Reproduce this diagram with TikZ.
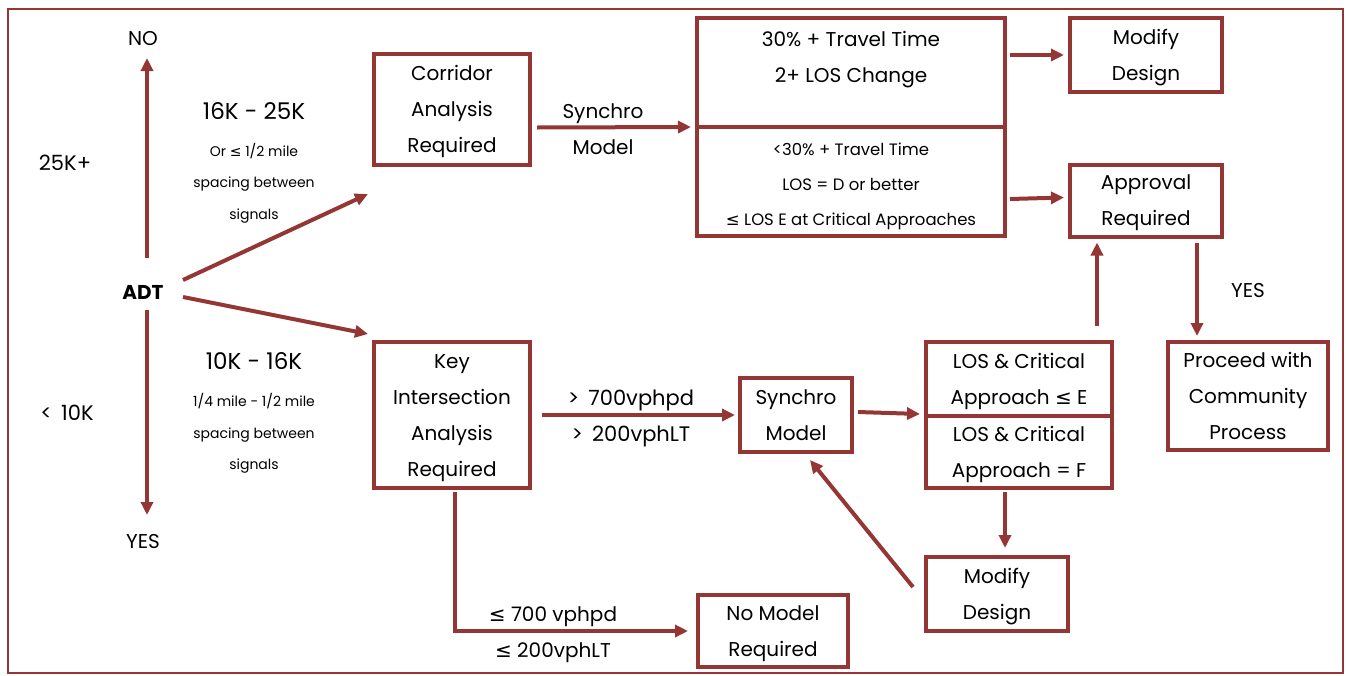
\documentclass[tikz,border=0pt]{standalone}
\usepackage{fontspec}
\setmainfont{Poppins}
\newfontfamily\symf{DejaVu Sans}
\usetikzlibrary{arrows.meta,calc}
\definecolor{dred}{RGB}{148,54,52}
\newcommand\boxtext[1]{\begin{tabular}{@{}c@{}}#1\end{tabular}}
\begin{document}
\begin{tikzpicture}[x=1pt,y=-1pt,
  box/.style={draw=dred, line width=4pt, inner sep=0pt, font=\fontsize{20}{36}\selectfont},
  arr/.style={draw=dred, line width=4pt, -{Triangle[length=13pt,width=12pt]}},
  lbl/.style={inner sep=0pt, align=center, font=\fontsize{20}{36}\selectfont},
  hdr/.style={inner sep=0pt, align=center, font=\fontsize{23}{36}\selectfont},
  small/.style={inner sep=0pt, align=center, font=\fontsize{14}{31.5}\selectfont},
  mid/.style={inner sep=0pt, align=center, font=\fontsize{16.5}{35}\selectfont}]
\useasboundingbox (0,0) rectangle (1349,675);
\draw[dred, line width=2pt] (8,9) rectangle (1343,673);

% left labels
\node[lbl, font=\bfseries\fontsize{20}{24}\selectfont] (adt) at (143,292) {ADT};
\node[lbl] (no) at (143,39) {NO};
\node[lbl] (yes) at (143,542) {YES};
\node[lbl, font=\fontsize{21}{24}\selectfont] (k25) at (65,163) {25K+};
\node[lbl, font=\fontsize{21}{24}\selectfont] (k10) at (67,413) {<\, 10K};
\node[hdr] (h1) at (254,111) {16K - 25K};
\node[small] (s1) at (254,183) {Or {\symf ≤} 1/2 mile\\spacing between\\signals};
\node[hdr] (h2) at (254,361) {10K - 16K};
\node[small] (s2) at (254,433.5) {1/4 mile - 1/2 mile\\spacing between\\signals};

% boxes
\node[box, minimum width=156pt, minimum height=111pt] (corr) at (452,109.5) {\boxtext{Corridor\\Analysis\\Required}};
\node[box, minimum width=156pt, minimum height=146pt] (key) at (452,415) {\boxtext{Key\\Intersection\\Analysis\\Required}};
\node[box, minimum width=308pt, minimum height=109pt] (tb1) at (851,72.5) {};
\node[box, minimum width=308pt, minimum height=109pt] (tb2) at (851,181.5) {};
\node[lbl] (tb1t) at (851,60) {30\% + Travel Time\\2+ LOS Change};
\node[mid] (tb2t) at (851,186) {<30\% + Travel Time\\LOS = D or better\\{\symf ≤} LOS E at Critical Approaches};
\node[box, minimum width=152pt, minimum height=74pt] (mod1) at (1146,55) {\boxtext{Modify\\Design}};
\node[box, minimum width=152pt, minimum height=71pt] (appr) at (1146,200.5) {\boxtext{Approval\\Required}};
\node[box, minimum width=112pt, minimum height=74pt] (syn) at (796,415) {\boxtext{Synchro\\Model}};
\node[box, minimum width=186pt, minimum height=74pt] (los1) at (1019,379) {\boxtext{LOS \& Critical\\Approach {\symf ≤} E}};
\node[box, minimum width=186pt, minimum height=72pt] (los2) at (1019,452) {\boxtext{LOS \& Critical\\Approach = F}};
\node[box, minimum width=160pt, minimum height=108pt] (proc) at (1248,396) {\boxtext{Proceed with\\Community\\Process}};
\node[box, minimum width=142pt, minimum height=74pt] (mod2) at (997,594) {\boxtext{Modify\\Design}};
\node[box, minimum width=150pt, minimum height=70pt] (nom) at (773,631) {\boxtext{No Model\\Required}};

% edge labels
\node[lbl] (synl) at (603,129) {Synchro\\Model};
\node[lbl, font=\fontsize{21}{36}\selectfont] (vph1) at (631,418) {>\, 700vphpd\\>\, 200vphLT};
\node[lbl] (vph2) at (553,634.5) {{\symf ≤} 700 vphpd\\{\symf ≤} 200vphLT};
\node[lbl] (yes2) at (1248,291) {YES};

% connectors
\draw[arr] ($(adt)+(4,-34)$) -- ($(no)+(4,19)$);
\draw[arr] ($(adt)+(4,18)$) -- ($(yes)+(4,-27)$);
\draw[arr] ($(adt)+(40,-12)$) -- ($(corr.south west)+(-4,27)$);
\draw[arr] ($(adt)+(40,5)$) -- ($(key.north west)+(-4,-6)$);
\draw[arr] ($(corr.east)+(5,18)$) -- ($(tb1.south west)+(-4,-2)$);
\draw[arr] ($(key.east)+(10,0)$) -- ($(syn.west)+(-3,0)$);
\draw[arr] ($(syn.east)+(4,-3)$) -- ($(los1.south west)+(-4,-4)$);
\draw[arr] ($(los2.south)+(-14,2)$) -- ($(mod2.north)+(8,-7)$);
\draw[arr] ($(mod2.west)+(-11,-7)$) -- ($(syn.south)+(14,6)$);
\draw[arr] ($(key.south)+(3,2)$) |- ($(nom.west)+(-8,0)$);
\draw[arr] ($(los1.north)+(78,-14)$) -- ($(appr.south)+(-49,4)$);
\draw[arr] ($(appr.south)+(51,4)$) -- ($(proc.north)+(-51,-4)$);
\draw[arr] ($(tb1.east)+(3,-17.5)$) -- ($(mod1.west)+(-4,0)$);
\draw[arr] ($(tb2.east)+(3,17.5)$) -- ($(appr.west)+(-4,-3)$);
\end{tikzpicture}
\end{document}
